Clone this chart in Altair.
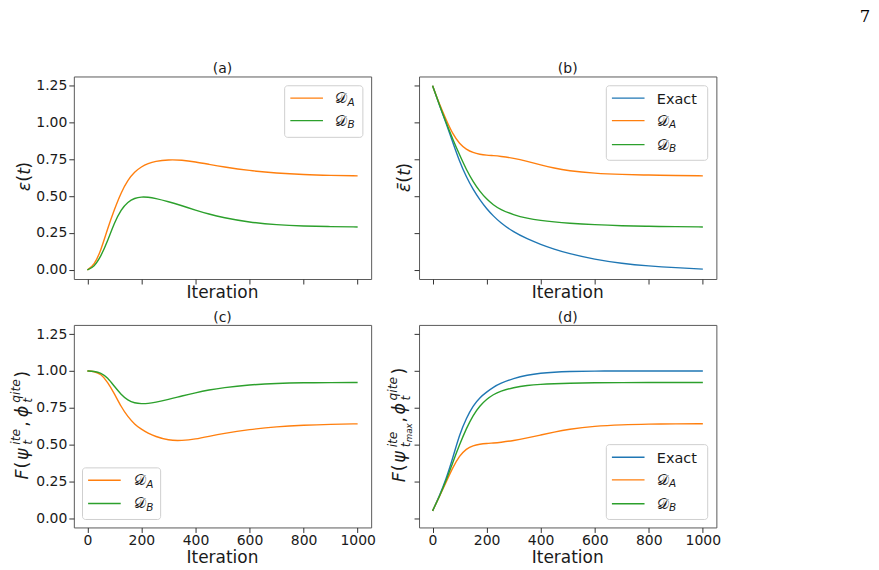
import altair as alt
import pandas as pd

# ---------------------------------------------------------------- style
BLUE, ORANGE, GREEN = "#1f77b4", "#ff7f0e", "#2ca02c"
COLORS = {"Exact": BLUE, "DA": ORANGE, "DB": GREEN}
FONT = "DejaVu Sans"
INK = "#1a1a1a"

PANEL_W, PANEL_H = 298, 203
GAP_X, GAP_Y = 48, 46
LEFT, TOP = 73, 75
PAGE_W, PAGE_H = 879, 570

X_TICKS = [0, 200, 400, 600, 800, 1000]
Y_TICKS = [0.0, 0.25, 0.5, 0.75, 1.0, 1.25]

# ---------------------------------------------------------------- data
ITER = [0, 25, 50, 75, 100, 125, 150, 175, 200, 225, 250, 300, 350, 400,
        450, 500, 600, 700, 800, 900, 1000]

# (a) error eps(t)
A_DA = [0.0, 0.03, 0.13, 0.28, 0.41, 0.525, 0.61, 0.665, 0.70, 0.722, 0.737,
        0.748, 0.745, 0.732, 0.716, 0.70, 0.673, 0.656, 0.646, 0.641, 0.638]
A_DB = [0.0, 0.02, 0.09, 0.195, 0.32, 0.41, 0.462, 0.487, 0.495, 0.493,
        0.486, 0.463, 0.435, 0.405, 0.378, 0.355, 0.322, 0.305, 0.297, 0.293,
        0.291]

# (b) cumulative error bar-eps(t)
B_EXACT = [1.25, 1.12, 0.995, 0.865, 0.735, 0.63, 0.545, 0.475, 0.415, 0.365,
           0.322, 0.255, 0.21, 0.172, 0.14, 0.112, 0.07, 0.043, 0.026, 0.014,
           0.005]
B_DA = [1.25, 1.125, 1.02, 0.92, 0.855, 0.817, 0.795, 0.784, 0.778, 0.775,
        0.771, 0.758, 0.737, 0.712, 0.69, 0.673, 0.655, 0.647, 0.643, 0.64,
        0.638]
B_DB = [1.25, 1.122, 1.0, 0.885, 0.78, 0.68, 0.598, 0.532, 0.48, 0.44, 0.41,
        0.372, 0.349, 0.335, 0.325, 0.317, 0.306, 0.299, 0.295, 0.293, 0.291]

# (c) fidelity F(psi_t^ite, phi_t^qite)
C_DA = [1.0, 0.997, 0.98, 0.925, 0.846, 0.757, 0.688, 0.638, 0.603, 0.577,
        0.556, 0.528, 0.527, 0.537, 0.556, 0.575, 0.603, 0.622, 0.632, 0.638,
        0.641]
C_DB = [1.0, 0.998, 0.988, 0.955, 0.895, 0.84, 0.80, 0.782, 0.777, 0.779,
        0.786, 0.806, 0.83, 0.852, 0.871, 0.886, 0.906, 0.916, 0.92, 0.921,
        0.922]

# (d) fidelity with the final ITE state
D_EXACT = [0.05, 0.15, 0.265, 0.41, 0.57, 0.68, 0.765, 0.82, 0.857, 0.89,
           0.915, 0.95, 0.972, 0.985, 0.992, 0.996, 0.999, 1.0, 1.0, 1.0, 1.0]
D_DA = [0.05, 0.145, 0.245, 0.345, 0.425, 0.472, 0.494, 0.503, 0.508, 0.511,
        0.515, 0.527, 0.545, 0.565, 0.585, 0.603, 0.626, 0.635, 0.639, 0.641,
        0.642]
D_DB = [0.05, 0.145, 0.255, 0.38, 0.50, 0.61, 0.70, 0.763, 0.808, 0.84, 0.862,
        0.888, 0.902, 0.909, 0.913, 0.916, 0.92, 0.921, 0.922, 0.922, 0.922]

ONE = pd.DataFrame({"k": [0]})


def frame(**series):
    rows = []
    for name, vals in series.items():
        for it, v in zip(ITER, vals):
            rows.append({"iteration": it, "value": v, "series": name})
    return pd.DataFrame(rows)


# ---------------------------------------------------------------- helpers
def text(label, x, y, size, align="left", style="normal", font=FONT,
         baseline="alphabetic", angle=None, color=INK):
    kw = dict(text=label, font=font, fontSize=size, align=align,
              baseline=baseline, fontStyle=style, color=color)
    if angle is not None:
        kw["angle"] = angle
    return alt.Chart(ONE).mark_text(**kw).encode(x=alt.value(x), y=alt.value(y))


def rotated(x_base, y_start, pieces, size=17.5):
    """Vertical axis title assembled from pieces (text, offset, shift, scale, italic)."""
    out = []
    for label, along, shift, scale, italic in pieces:
        out.append(text(label, x_base + shift, y_start - along, size * scale,
                        style="italic" if italic else "normal", angle=270))
    return out


def legend(box, entries, line_x, label_x):
    x0, y0, x1, y1 = box
    out = [alt.Chart(ONE).mark_rect(fill="white", fillOpacity=0.8,
                                    stroke="#cfcfcf", strokeWidth=1,
                                    cornerRadius=3)
           .encode(x=alt.value(x0), x2=alt.value(x1),
                   y=alt.value(y0), y2=alt.value(y1))]
    for name, yy in entries:
        out.append(alt.Chart(ONE).mark_rule(color=COLORS[name], strokeWidth=1.4)
                   .encode(x=alt.value(line_x[0]), x2=alt.value(line_x[1]),
                           y=alt.value(yy)))
        if name == "Exact":
            out.append(text("Exact", label_x, yy + 5.5, 14.5))
        else:
            out.append(text("\U0001D49F", label_x, yy + 5, 15, font="DejaVu Serif"))
            out.append(text(name[1], label_x + 12.3, yy + 7.5, 10.5, style="italic"))
    return out


def panel(data, title, x_labels, y_labels, extra):
    x = alt.X("iteration:Q",
              scale=alt.Scale(domain=[-50, 1050], nice=False, zero=False),
              axis=alt.Axis(values=X_TICKS, labels=x_labels, format="d",
                            title=None, grid=False, domain=False, tickSize=5,
                            tickColor="#333333", labelFont=FONT,
                            labelFontSize=14, labelColor=INK, labelPadding=1))
    y = alt.Y("value:Q",
              scale=alt.Scale(domain=[-0.0625, 1.3125], nice=False, zero=False),
              axis=alt.Axis(values=Y_TICKS, labels=y_labels, format=".2f",
                            title=None, grid=False, domain=False, tickSize=5,
                            tickColor="#333333", labelFont=FONT,
                            labelFontSize=14, labelColor=INK, labelPadding=2))
    lines = alt.Chart(data).mark_line(interpolate="basis", strokeWidth=1.4).encode(
        x=x, y=y,
        color=alt.Color("series:N", legend=None,
                        scale=alt.Scale(domain=list(COLORS),
                                        range=list(COLORS.values()))),
    )
    layers = [lines]
    layers.append(text(title, PANEL_W / 2, -3, 14, align="center"))
    bottom = PANEL_H + (35.7 if x_labels else 19.3)
    layers.append(text("Iteration", PANEL_W / 2, bottom, 17, align="center"))
    layers += extra
    return alt.layer(*layers).properties(width=PANEL_W, height=PANEL_H)


# ---------------------------------------------------------------- panels
chart_a = panel(
    frame(DA=A_DA, DB=A_DB), "(a)", False, True,
    [alt.Chart(ONE).mark_rect(opacity=0).encode(
        x=alt.value(-LEFT), x2=alt.value(PAGE_W - LEFT),
        y=alt.value(-TOP), y2=alt.value(PAGE_H - TOP))]
    + rotated(-43.5, 115, [("ε", 0, 0, 1, True), ("(", 9.5, 0, 1, False),
                           ("t", 16.5, 0, 1, True), (")", 22.5, 0, 1, False)])
    + legend((211.3, 9.3, 289.7, 61), [("DA", 21.7), ("DB", 44.3)],
             (217, 249.7), 262),
)

chart_b = panel(
    frame(Exact=B_EXACT, DA=B_DA, DB=B_DB), "(b)", False, False,
    rotated(-9.5, 116, [("ε\u0304", 0, 0, 1, True), ("(", 9.5, 0, 1, False),
                        ("t", 16.5, 0, 1, True), (")", 22.5, 0, 1, False)])
    + legend((187.7, 9.3, 289.3, 84), [("Exact", 21.7), ("DA", 44.3), ("DB", 68.3)],
             (193.3, 226), 238.3)
    + [text("7", 447, -54.5, 16.5, align="center", font="DejaVu Serif",
            color="#000000")],
)

chart_c = panel(
    frame(DA=C_DA, DB=C_DB), "(c)", True, True,
    rotated(-46, 155, [("F", 0, 0, 1, True), ("(", 11, 0, 1, False),
                       ("ψ", 19.5, 0, 1, True), ("ite", 35, -8, 0.7, True),
                       ("t", 35, 4.5, 0.7, True), (",", 53, 0, 1, False),
                       ("ϕ", 62.5, 0, 1, True), ("qite", 77, -8, 0.7, True),
                       ("t", 77, 4.5, 0.7, True), (")", 102, 0, 1, False)])
    + legend((8.7, 143.3, 87, 195), [("DA", 155.7), ("DB", 179)],
             (14.3, 47), 60.3),
)

chart_d = panel(
    frame(Exact=D_EXACT, DA=D_DA, DB=D_DB), "(d)", True, False,
    rotated(-14, 157.7, [("F", 0, 0, 1, True), ("(", 11, 0, 1, False),
                         ("ψ", 19.5, 0, 1, True), ("ite", 35, -8, 0.7, True),
                         ("t", 35, 4.5, 0.7, True), ("max", 40, 7, 0.5, True),
                         (",", 60, 0, 1, False), ("ϕ", 68, 0, 1, True),
                         ("qite", 82, -8, 0.7, True), ("t", 82, 4.5, 0.7, True),
                         (")", 108, 0, 1, False)])
    + legend((187.7, 120, 289.3, 195), [("Exact", 132.7), ("DA", 155.3), ("DB", 179.3)],
             (193.3, 226), 238.3),
)

chart = (
    alt.concat(chart_a, chart_b, chart_c, chart_d, columns=2,
               spacing={"row": GAP_Y, "column": GAP_X}, bounds="flush")
    .properties(padding=0, background="white")
    .configure_view(stroke="#5a5a5a", strokeWidth=1)
)

chart.save("out.html", embed_options={"renderer": "svg", "actions": False})
